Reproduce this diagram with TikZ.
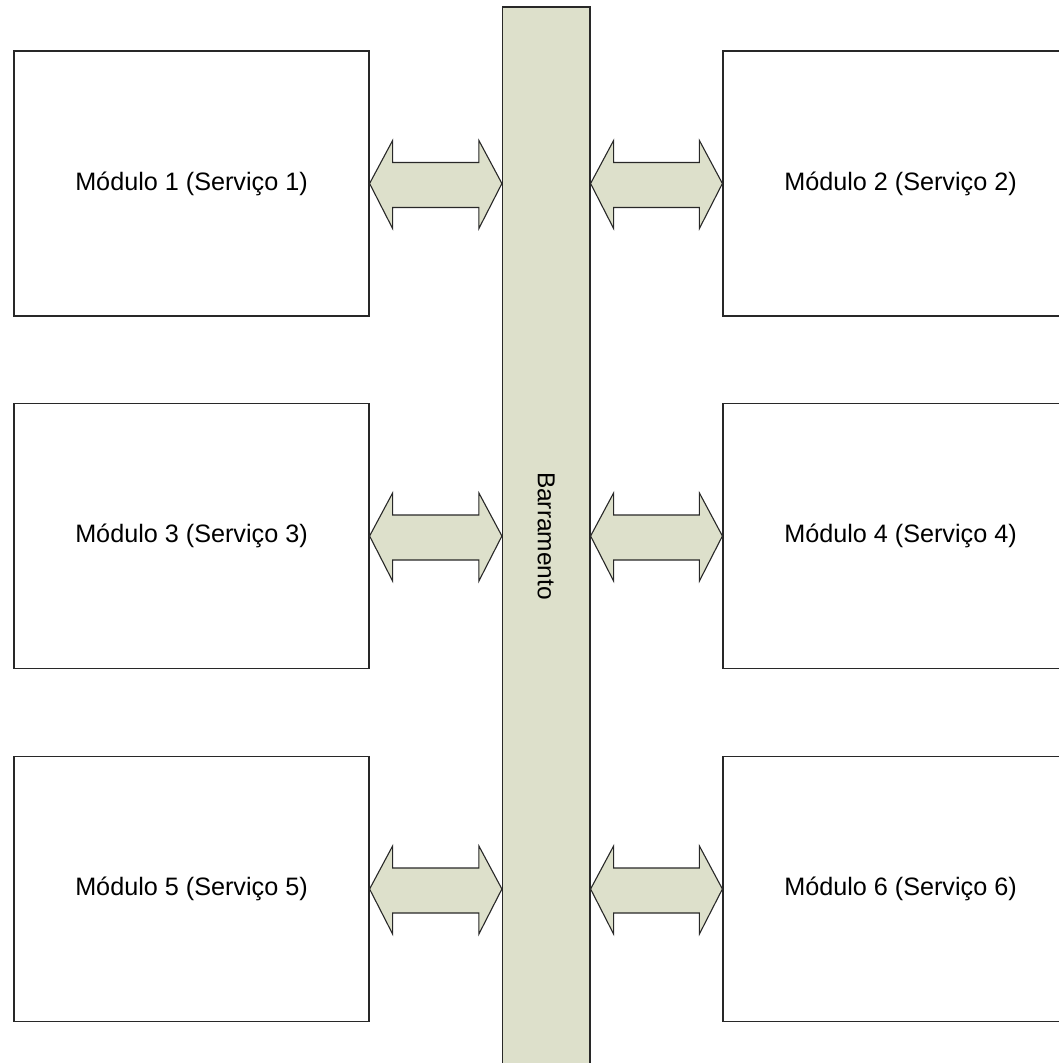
\documentclass[tikz,border=0pt]{standalone}
\usepackage{fontspec}
\setmainfont{Liberation Sans}
\usetikzlibrary{calc}
\definecolor{busfill}{RGB}{221,224,203}
\definecolor{edge}{RGB}{40,40,40}
\tikzset{
  modbox/.style={draw=edge, line width=1.2pt, fill=white, inner sep=0pt,
    minimum width=355pt, minimum height=265pt,
    font=\fontsize{25.2}{30}\selectfont},
  busbar/.style={draw=edge, line width=1.2pt, fill=busfill, inner sep=0pt,
    minimum width=87.5pt, minimum height=1058pt},
  buslabel/.style={rotate=-90, font=\fontsize{24.5}{29}\selectfont},
  linkarrow/.style={draw=edge, line width=1.1pt, fill=busfill, line join=miter}
}
% double-headed arrow between two points at the same height
\newcommand\linkbetween[2]{%
  \draw[linkarrow] (#1) -- ($(#1)+(23,-43)$) -- ($(#1)+(23,-21)$)
    -- ($(#2)+(-23,-21)$) -- ($(#2)+(-23,-43)$) -- (#2)
    -- ($(#2)+(-23,45)$) -- ($(#2)+(-23,24)$)
    -- ($(#1)+(23,24)$) -- ($(#1)+(23,45)$) -- cycle;}
\begin{document}
\begin{tikzpicture}[x=1pt,y=-1pt]
\useasboundingbox (0,0) rectangle (1059,1063);
\clip (0,0) rectangle (1059,1063);
\fill[white] (0,0) rectangle (1059,1063);

% bus
\node[busbar] (bus) at (546.25,536) {};
\node[buslabel] (buslbl) at (bus.center) {Barramento};

% modules
\node[modbox] (m1) at (191.5,183.5) {\raisebox{-2pt}{Módulo 1 (Serviço 1)}};
\node[modbox] (m2) at (900.5,183.5) {\raisebox{-2pt}{Módulo 2 (Serviço 2)}};
\node[modbox] (m3) at (191.5,536)   {\raisebox{-2pt}{Módulo 3 (Serviço 3)}};
\node[modbox] (m4) at (900.5,536)   {\raisebox{-2pt}{Módulo 4 (Serviço 4)}};
\node[modbox] (m5) at (191.5,889)   {\raisebox{-2pt}{Módulo 5 (Serviço 5)}};
\node[modbox] (m6) at (900.5,889)   {\raisebox{-2pt}{Módulo 6 (Serviço 6)}};

% attachment points on the bus
\coordinate (b1) at (bus.west |- m1.east);
\coordinate (b2) at (bus.east |- m2.west);
\coordinate (b3) at (bus.west |- m3.east);
\coordinate (b4) at (bus.east |- m4.west);
\coordinate (b5) at (bus.west |- m5.east);
\coordinate (b6) at (bus.east |- m6.west);

% links
\linkbetween{m1.east}{b1}
\linkbetween{b2}{m2.west}
\linkbetween{m3.east}{b3}
\linkbetween{b4}{m4.west}
\linkbetween{m5.east}{b5}
\linkbetween{b6}{m6.west}
\end{tikzpicture}
\end{document}
